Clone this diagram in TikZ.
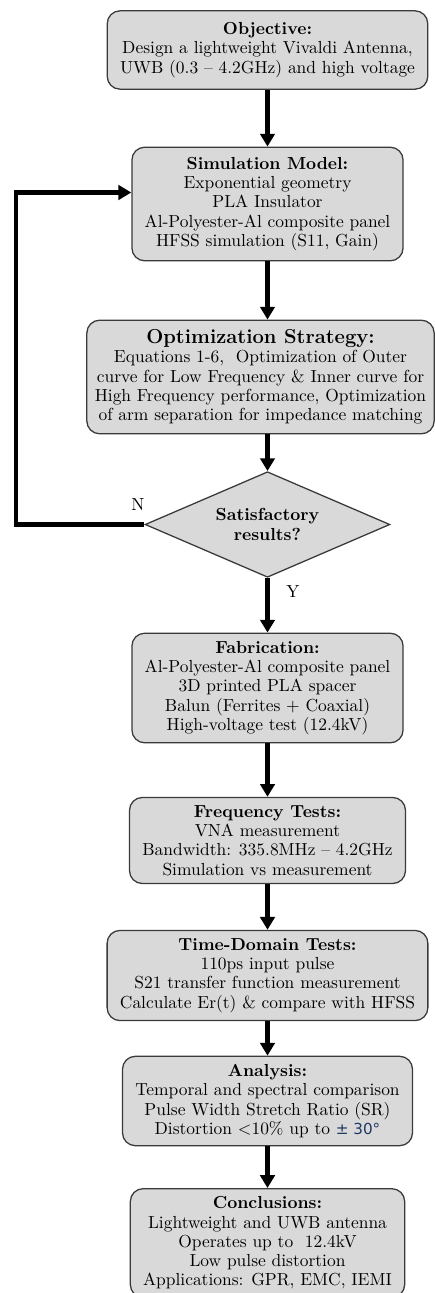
\documentclass[tikz,border=0pt]{standalone}
\usepackage{fontspec}
\usepackage{tikz}
\usetikzlibrary{shapes,arrows.meta}
\newfontfamily\degfont{DejaVu Sans}
\definecolor{boxgray}{HTML}{D9D9D9}
\definecolor{edgegray}{HTML}{3A3A3A}
\definecolor{pmblue}{HTML}{1F3864}
\tikzset{stepbox/.style={draw=edgegray, line width=0.8pt, fill=boxgray, rounded corners=8pt, align=center, inner xsep=8pt, inner ysep=5pt, minimum width=169pt},
  decision/.style={diamond, draw=edgegray, line width=0.8pt, fill=boxgray, align=center, aspect=2.3, inner sep=1pt, minimum width=153pt, minimum height=66pt},
  flow/.style={line width=3pt, -{Triangle[length=8pt,width=9pt]}}}

\begin{document}
\begin{tikzpicture}[x=0.625pt,y=-0.625pt,font=\fontsize{10.9}{12.05}\selectfont]
\useasboundingbox (0,0) rectangle (435,1293);
\node[stepbox, minimum height=49pt] (obj) at (267.5,50) {\textbf{Objective:}\\Design a lightweight Vivaldi Antenna,\\UWB (0.3 -- 4.2GHz) and high voltage};
\node[stepbox, minimum height=71pt] (sim) at (267.5,204) {\textbf{Simulation Model:}\\Exponential geometry\\PLA Insulator\\Al-Polyester-Al composite panel\\HFSS simulation (S11, Gain)};
\node[stepbox, inner xsep=5pt, minimum height=71pt] (opt) at (260.5,377) {{\fontsize{12.6}{14}\bfseries Optimization Strategy:}\\Equations 1-6,\ \ Optimization of Outer\\curve for Low Frequency \& Inner curve for\\High Frequency performance, Optimization\\of arm separation for impedance matching};
\node[decision] (dia) at (267.5,524.5) {\textbf{Satisfactory}\\\textbf{results?}};
\node[stepbox] (fab) at (267.5,688) {\textbf{Fabrication:}\\Al-Polyester-Al composite panel\\3D printed PLA spacer\\Balun (Ferrites + Coaxial)\\High-voltage test (12.4kV)};
\node[stepbox] (freq) at (267.5,840.5) {\textbf{Frequency Tests:}\\VNA measurement\\Bandwidth: 335.8MHz -- 4.2GHz\\Simulation vs measurement};
\node[stepbox] (time) at (267.5,975.5) {\textbf{Time-Domain Tests:}\\110ps input pulse\\S21 transfer function measurement\\Calculate Er(t) \& compare with HFSS};
\node[stepbox] (ana) at (267.5,1101) {\textbf{Analysis:}\\Temporal and spectral comparison\\Pulse Width Stretch Ratio (SR)\\Distortion $<$10\% up to {\degfont\fontsize{9.5}{12}\selectfont\color{pmblue}± 30°}};
\node[stepbox] (concl) at (267.5,1243) {\textbf{Conclusions:}\\Lightweight and UWB antenna\\Operates up to\ \ 12.4kV\\Low pulse distortion\\Applications: GPR, EMC, IEMI};
\coordinate (back) at (16,192.5);
\node (nlab) at (138,505) {N};
\node (ylab) at (293,592) {Y};
% main flow
\draw[flow] (obj) -- (sim);
\draw[flow] (sim.south) -- (sim.south |- opt.north);
\draw[flow] (dia.north |- opt.south) -- (dia.north);
\draw[flow] (dia.south) -- (fab.north);
\draw[flow] (fab) -- (freq);
\draw[flow] (freq) -- (time);
\draw[flow] (time) -- (ana);
\draw[flow] (ana) -- (concl);
% loop back
\draw[flow] (dia.west) -| (back) -- (back -| sim.west);
\end{tikzpicture}
\end{document}
